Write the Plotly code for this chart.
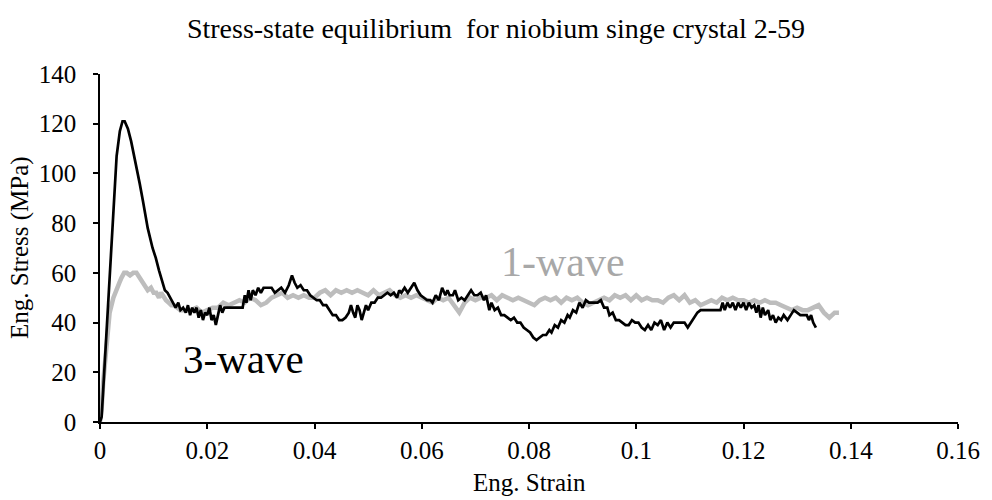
import plotly.graph_objects as go

# 3-wave (black) record: engineering strain vs engineering stress (MPa)
wave3_strain = [
    0.0000, 0.0003, 0.0006, 0.0012, 0.0018, 0.0025, 0.0031, 0.0037, 0.0042, 0.0046,
    0.0052, 0.0058, 0.0063, 0.0068, 0.0074, 0.0080, 0.0089, 0.0098, 0.0104, 0.0110,
    0.0116, 0.0121, 0.0126, 0.0131, 0.0136, 0.0141, 0.0146, 0.0150, 0.0155, 0.0160,
    0.0164, 0.0168, 0.0172, 0.0176, 0.0180, 0.0184, 0.0188, 0.0192, 0.0196, 0.0200,
    0.0204, 0.0208, 0.0212, 0.0216, 0.0220, 0.0224, 0.0228, 0.0232, 0.0240, 0.0250,
    0.0260, 0.0266, 0.0270, 0.0273, 0.0277, 0.0281, 0.0285, 0.0290, 0.0295, 0.0300,
    0.0305, 0.0312, 0.0320, 0.0326, 0.0332, 0.0338, 0.0345, 0.0352, 0.0358, 0.0363,
    0.0368, 0.0374, 0.0380, 0.0386, 0.0392, 0.0398, 0.0404, 0.0410, 0.0416, 0.0422,
    0.0428, 0.0434, 0.0440, 0.0446, 0.0452, 0.0458, 0.0464, 0.0468, 0.0472, 0.0476,
    0.0480, 0.0484, 0.0488, 0.0492, 0.0496, 0.0500, 0.0506, 0.0512, 0.0518, 0.0524,
    0.0530, 0.0536, 0.0542, 0.0548, 0.0554, 0.0558, 0.0562, 0.0568, 0.0574, 0.0580,
    0.0586, 0.0592, 0.0598, 0.0604, 0.0610, 0.0616, 0.0620, 0.0626, 0.0632, 0.0638,
    0.0644, 0.0648, 0.0652, 0.0658, 0.0662, 0.0668, 0.0674, 0.0680, 0.0686, 0.0692,
    0.0698, 0.0704, 0.0710, 0.0716, 0.0720, 0.0726, 0.0730, 0.0736, 0.0742, 0.0748,
    0.0754, 0.0760, 0.0766, 0.0772, 0.0778, 0.0784, 0.0790, 0.0796, 0.0802, 0.0808,
    0.0814, 0.0820, 0.0826, 0.0832, 0.0838, 0.0842, 0.0848, 0.0854, 0.0860, 0.0866,
    0.0872, 0.0876, 0.0882, 0.0888, 0.0894, 0.0900, 0.0906, 0.0912, 0.0920, 0.0928,
    0.0934, 0.0940, 0.0946, 0.0950, 0.0956, 0.0962, 0.0968, 0.0974, 0.0980, 0.0986,
    0.0992, 0.0998, 0.1004, 0.1010, 0.1016, 0.1022, 0.1028, 0.1034, 0.1040, 0.1046,
    0.1052, 0.1058, 0.1064, 0.1070, 0.1080, 0.1090, 0.1096, 0.1102, 0.1108, 0.1114,
    0.1120, 0.1130, 0.1140, 0.1150, 0.1157, 0.1161, 0.1165, 0.1170, 0.1175, 0.1180,
    0.1185, 0.1190, 0.1195, 0.1200, 0.1205, 0.1210, 0.1215, 0.1220, 0.1224, 0.1228,
    0.1232, 0.1236, 0.1240, 0.1246, 0.1250, 0.1255, 0.1260, 0.1265, 0.1270, 0.1275,
    0.1282, 0.1288, 0.1294, 0.1300, 0.1306, 0.1312, 0.1318, 0.1322, 0.1326, 0.1330,
    0.1335,
]
wave3_stress = [
    0, 2, 13, 36, 62, 89, 107, 117, 121, 121,
    118, 113, 108, 103, 96, 89, 78, 70, 66, 61,
    57, 53, 52, 50, 48, 46, 48, 45, 46, 44,
    47, 43, 46, 44, 46, 42, 45, 41, 44, 43,
    46, 41, 43, 39, 43, 47, 44, 46, 46, 46,
    46, 46, 51, 48, 53, 49, 53, 51, 54, 52,
    54, 54, 54, 52, 53, 54, 52, 55, 59, 56,
    54, 55, 53, 53, 51, 50, 49, 49, 47, 47,
    45, 43, 43, 41, 41, 42, 44, 47, 44, 42,
    47, 45, 41, 44, 47, 45, 48, 48, 50, 50,
    51, 52, 51, 52, 50, 53, 52, 54, 52, 54,
    56, 53, 51, 50, 49, 49, 48, 51, 49, 54,
    51, 53, 51, 51, 53, 49, 50, 49, 51, 53,
    51, 51, 52, 49, 51, 45, 48, 45, 46, 43,
    43, 42, 41, 42, 40, 40, 38, 37, 36, 34,
    33, 34, 35, 35, 37, 36, 39, 38, 41, 40,
    43, 42, 45, 44, 48, 46, 49, 48, 48, 48,
    49, 46, 46, 43, 44, 41, 41, 40, 39, 39,
    41, 40, 40, 38, 37, 39, 37, 40, 39, 41,
    37, 40, 38, 40, 40, 40, 38, 40, 42, 44,
    45, 45, 45, 45, 45, 48, 45, 48, 46, 48,
    45, 48, 46, 48, 45, 48, 46, 47, 44, 47,
    42, 46, 43, 45, 41, 43, 40, 42, 41, 43,
    41, 43, 45, 44, 43, 43, 43, 41, 43, 40,
    38,
]

# 1-wave (grey) record
wave1_strain = [
    0.0000, 0.0003, 0.0006, 0.0012, 0.0018, 0.0025, 0.0031, 0.0036, 0.0040, 0.0045,
    0.0050, 0.0056, 0.0062, 0.0068, 0.0074, 0.0080, 0.0085, 0.0089, 0.0095, 0.0100,
    0.0105, 0.0110, 0.0114, 0.0119, 0.0123, 0.0128, 0.0133, 0.0138, 0.0144, 0.0150,
    0.016, 0.017, 0.018, 0.019, 0.020, 0.021, 0.022, 0.023, 0.024, 0.025,
    0.026, 0.027, 0.028, 0.029, 0.030, 0.031, 0.032, 0.033, 0.034, 0.035,
    0.036, 0.037, 0.038, 0.039, 0.040, 0.041, 0.042, 0.043, 0.044, 0.045,
    0.046, 0.047, 0.048, 0.049, 0.050, 0.051, 0.052, 0.053, 0.054, 0.055,
    0.056, 0.057, 0.058, 0.059, 0.060, 0.061, 0.062, 0.063, 0.064, 0.065,
    0.066, 0.067, 0.068, 0.069, 0.070, 0.071, 0.072, 0.073, 0.074, 0.075,
    0.076, 0.077, 0.078, 0.079, 0.080, 0.081, 0.082, 0.083, 0.084, 0.085,
    0.086, 0.087, 0.088, 0.089, 0.090, 0.091, 0.092, 0.093, 0.094, 0.095,
    0.096, 0.097, 0.098, 0.099, 0.100, 0.101, 0.102, 0.103, 0.104, 0.105,
    0.106, 0.107, 0.108, 0.109, 0.110, 0.111, 0.112, 0.113, 0.114, 0.115,
    0.116, 0.117, 0.118, 0.119, 0.120, 0.121, 0.122, 0.123, 0.124, 0.125,
    0.126, 0.127, 0.128, 0.129, 0.130, 0.131, 0.132, 0.133, 0.134, 0.135,
    0.136, 0.137, 0.1378,
]
wave1_stress = [
    0, 5, 16, 33, 44, 50, 54, 56, 58, 60,
    60, 59, 60, 60, 58, 56, 54, 53, 54, 52,
    52, 50, 52, 50, 49, 48, 47, 47, 46, 45,
    45, 45, 46, 44, 45, 46, 46, 48, 47, 48,
    49, 48, 50, 49, 47, 48, 50, 51, 52, 50,
    51, 50, 51, 50, 50, 52, 53, 51, 53, 52,
    53, 52, 53, 52, 51, 53, 51, 52, 53, 51,
    50, 51, 50, 51, 50, 49, 48, 50, 49, 50,
    47, 44, 48, 50, 49, 50, 50, 51, 49, 51,
    50, 49, 50, 49, 48, 47, 49, 50, 49, 50,
    48, 50, 49, 50, 48, 47, 48, 49, 50, 49,
    51, 50, 51, 49, 51, 49, 50, 49, 49, 48,
    50, 51, 49, 51, 48, 49, 47, 48, 49, 48,
    50, 49, 50, 49, 49, 48, 49, 48, 49, 48,
    48, 47, 46, 45, 46, 45, 45, 46, 47, 44,
    42, 44, 44,
]

x_ticks = [0, 0.02, 0.04, 0.06, 0.08, 0.1, 0.12, 0.14, 0.16]
x_tick_text = ["0", "0.02", "0.04", "0.06", "0.08", "0.1", "0.12", "0.14", "0.16"]
y_ticks = [0, 20, 40, 60, 80, 100, 120, 140]

SERIF = "Liberation Serif"
GREY = "#bdbdbd"

fig = go.Figure()
fig.add_trace(go.Scatter(
    x=wave1_strain, y=wave1_stress, mode="lines", name="1-wave",
    line=dict(color=GREY, width=4.5), showlegend=False,
))
fig.add_trace(go.Scatter(
    x=wave3_strain, y=wave3_stress, mode="lines", name="3-wave",
    line=dict(color="black", width=2.7), showlegend=False,
))

# series labels placed next to their curves
fig.add_annotation(x=0.0268, y=25.5, text="3-wave", showarrow=False,
                   font=dict(family=SERIF, size=41, color="black"))
fig.add_annotation(x=0.0864, y=64.5, text="1-wave", showarrow=False,
                   font=dict(family=SERIF, size=42, color="#a8a8a8"))

# axis titles
fig.add_annotation(xref="paper", yref="paper", x=0, y=0.5, xshift=-80,
                   text="Eng. Stress (MPa)", textangle=-90, showarrow=False,
                   xanchor="center", yanchor="middle",
                   font=dict(family=SERIF, size=25, color="black"))
fig.add_annotation(xref="paper", yref="paper", x=0.5, y=0, yshift=-60,
                   text="Eng. Strain", showarrow=False,
                   xanchor="center", yanchor="middle",
                   font=dict(family=SERIF, size=25, color="black"))

axis_common = dict(
    showgrid=False, zeroline=False, showline=True, linecolor="black",
    linewidth=1.5, ticks="outside", ticklen=5, tickwidth=1.5, tickcolor="black",
    tickfont=dict(family=SERIF, size=25, color="black"),
)

fig.update_layout(
    width=992, height=500,
    margin=dict(l=100, r=25, t=74, b=78),
    paper_bgcolor="white", plot_bgcolor="white",
    font=dict(family=SERIF, color="black"),
    title=dict(
        text="Stress-state equilibrium\u00a0 for niobium singe crystal 2-59",
        x=0.5, xanchor="center", y=1 - 28 / 500, yanchor="middle", yref="container",
        font=dict(family=SERIF, size=28, color="black"),
    ),
    xaxis=dict(range=[0, 0.16], tickvals=x_ticks, ticktext=x_tick_text,
               ticklabelstandoff=0, **axis_common),
    yaxis=dict(range=[0, 140], tickvals=y_ticks, ticklabelstandoff=12, **axis_common),
    # overlay axes that add the inner half of each crossing tick mark
    xaxis2=dict(range=[0, 0.16], tickvals=x_ticks, overlaying="x", anchor="y",
                side="bottom", showticklabels=False, showline=False, showgrid=False,
                zeroline=False, ticks="inside", ticklen=5, tickwidth=1.5, tickcolor="black"),
    yaxis2=dict(range=[0, 140], tickvals=y_ticks, overlaying="y", anchor="x",
                side="left", showticklabels=False, showline=False, showgrid=False,
                zeroline=False, ticks="inside", ticklen=5, tickwidth=1.5, tickcolor="black"),
)

fig.write_html("out.html")
